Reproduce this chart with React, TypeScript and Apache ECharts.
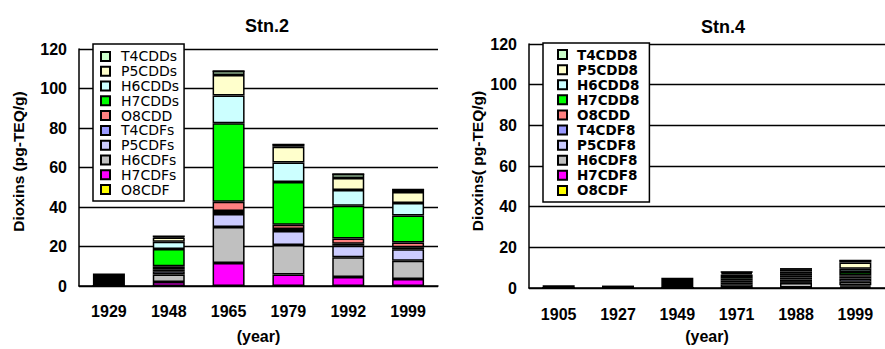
import React, { useEffect, useRef } from 'react';
import * as echarts from 'echarts';

const FONT = '"Liberation Sans", Arial, sans-serif';
const LEGEND_FONT = '"DejaVu Sans", "Liberation Sans", sans-serif';

// Stn.2
const years2 = ['1929', '1948', '1965', '1979', '1992', '1999'];
const s2_O8CDF = [0, 0, 0, 0, 0, 0];
const s2_H7CDFs = [0, 2.0, 11.6, 5.8, 4.6, 3.6];
const s2_H6CDFs = [0, 3.8, 18.3, 14.9, 10.0, 9.2];
const s2_P5CDFs = [0, 1.7, 6.6, 7.2, 5.8, 5.8];
const s2_T4CDFs = [0, 1.0, 1.5, 1.0, 1.0, 1.0];
const s2_O8CDD = [0, 1.5, 4.6, 2.1, 2.6, 2.4];
const s2_H7CDDs = [0, 8.7, 39.8, 21.6, 16.6, 13.7];
const s2_H6CDDs = [0, 3.7, 14.1, 9.9, 8.0, 6.3];
const s2_P5CDDs = [0, 2.1, 10.3, 8.0, 6.1, 5.6];
const s2_T4CDDs = [0, 0.7, 2.0, 1.1, 2.0, 1.3];
const s2_Other = [6.3, 0, 0, 0, 0, 0];

// Stn.4
const years4 = ['1905', '1927', '1949', '1971', '1988', '1999'];
const s4_O8CDF = [0, 0, 0, 0, 0, 0.6];
const s4_H7CDF8 = [0, 0, 0, 0.3, 0.3, 0.7];
const s4_H6CDF8 = [0, 0, 0, 1.6, 2.2, 1.8];
const s4_P5CDF8 = [0, 0, 0, 0.9, 0.9, 1.6];
const s4_T4CDF8 = [0, 0, 0, 0.8, 0.8, 0.8];
const s4_O8CDD = [0, 0, 0, 0.9, 0.9, 0.8];
const s4_H7CDD8 = [0, 0, 0, 0.9, 0.9, 1.6];
const s4_H6CDD8 = [0, 0, 0, 1.2, 1.3, 1.6];
const s4_P5CDD8 = [0, 0, 0, 0.7, 0.8, 3.0];
const s4_T4CDD8 = [0, 0, 0, 0.6, 0.8, 1.0];
const s4_Other = [1.3, 1.2, 5.0, 0, 0.9, 0];

const yTicks = { min: 0, max: 120, interval: 20 };

const legend2 = ['T4CDDs', 'P5CDDs', 'H6CDDs', 'H7CDDs', 'O8CDD', 'T4CDFs', 'P5CDFs', 'H6CDFs', 'H7CDFs', 'O8CDF'];
const legend4 = ['T4CDD8', 'P5CDD8', 'H6CDD8', 'H7CDD8', 'O8CDD', 'T4CDF8', 'P5CDF8', 'H6CDF8', 'H7CDF8', 'O8CDF'];

const colors = {
  O8CDF: '#FFFF00',
  H7CDF: '#FF00FF',
  H6CDF: '#C0C0C0',
  P5CDF: '#CCCCFF',
  T4CDF: '#9999FF',
  O8CDD: '#FF8080',
  H7CDD: '#00FF00',
  H6CDD: '#CCFFFF',
  P5CDD: '#FFFFCC',
  T4CDD: '#CCFFCC',
  Other: '#000000',
};

function bar(name: string, data: number[], color: string, idx: number, stack: string) {
  return {
    type: 'bar',
    name,
    data,
    stack,
    xAxisIndex: idx,
    yAxisIndex: idx,
    barWidth: 32,
    itemStyle: { color, borderColor: '#000', borderWidth: 1.5 },
    emphasis: { disabled: true },
  };
}

export default function App() {
  const ref = useRef<HTMLDivElement>(null);
  useEffect(() => {
    document.body.style.margin = '0';
    const chart = echarts.init(ref.current!, null, { renderer: 'svg' });

    const xAxisBase = (data: string[], gridIndex: number, margin: number, nameGap: number) => ({
      type: 'category',
      gridIndex,
      data,
      axisLine: { lineStyle: { color: '#000', width: 1.5 } },
      axisTick: { inside: true, length: 5, lineStyle: { color: '#000', width: 1.5 } },
      axisLabel: { fontSize: 16, fontWeight: 'bold', color: '#000', margin, fontFamily: FONT },
      name: '(year)',
      nameLocation: 'middle',
      nameGap,
      nameTextStyle: { fontSize: 16, fontWeight: 'bold', color: '#000', fontFamily: FONT },
    });

    const yAxisBase = (gridIndex: number, name: string, nameGap: number, shift: number) => ({
      type: 'value',
      gridIndex,
      ...yTicks,
      axisLine: { show: true, lineStyle: { color: '#000', width: 1.5 } },
      axisTick: { show: false },
      splitLine: { lineStyle: { color: '#000', width: 1.3 } },
      axisLabel: { fontSize: 16, fontWeight: 'bold', color: '#000', margin: 12, fontFamily: FONT },
      name,
      nameLocation: 'middle',
      nameRotate: 90,
      nameGap,
      nameTextStyle: { fontSize: 15.5, fontWeight: 'bold', color: '#000', fontFamily: FONT, padding: [0, 0, 0, shift] },
    });

    const legendBase = (data: string[], left: number, top: number, padding: number[], fontSize: number, fontWeight: string, lineHeight: number, textPad: number) => ({
      data,
      orient: 'vertical',
      left,
      top,
      padding,
      itemGap: 0,
      itemWidth: 9,
      itemHeight: 9,
      icon: 'rect',
      selectedMode: false,
      backgroundColor: '#fff',
      borderColor: '#000',
      borderWidth: 1.5,
      textStyle: { fontSize, fontWeight, lineHeight, color: '#000', fontFamily: LEGEND_FONT, padding: [0, 0, 0, textPad] },
    });

    const option = {
      animation: false,
      backgroundColor: '#fff',
      title: [
        { text: 'Stn.2', left: 262, top: 12, textAlign: 'center', textStyle: { fontSize: 18, fontWeight: 'bold', color: '#000', fontFamily: FONT } },
        { text: 'Stn.4', left: 718, top: 13, textAlign: 'center', textStyle: { fontSize: 18, fontWeight: 'bold', color: '#000', fontFamily: FONT } },
      ],
      grid: [
        { left: 79, top: 49, width: 359, height: 241 },
        { left: 529, top: 44, width: 364, height: 248 },
      ],
      xAxis: [xAxisBase(years2, 0, 17, 42), xAxisBase(years4, 1, 18, 40)],
      yAxis: [
        yAxisBase(0, 'Dioxins (pg-TEQ/g)', 53, 12),
        yAxisBase(1, 'Dioxins( pg-TEQ/g)', 44, 10),
      ],
      legend: [
        legendBase(legend2, 93, 44, [5, 5, 4, 7], 14, 'normal', 14.8, 6),
        legendBase(legend4, 543, 43, [4, 10, 4, 14], 13.5, 'bold', 15.1, 5),
      ],
      series: [
        bar('O8CDF', s2_O8CDF, colors.O8CDF, 0, 'a'),
        bar('H7CDFs', s2_H7CDFs, colors.H7CDF, 0, 'a'),
        bar('H6CDFs', s2_H6CDFs, colors.H6CDF, 0, 'a'),
        bar('P5CDFs', s2_P5CDFs, colors.P5CDF, 0, 'a'),
        bar('T4CDFs', s2_T4CDFs, colors.T4CDF, 0, 'a'),
        bar('O8CDD', s2_O8CDD, colors.O8CDD, 0, 'a'),
        bar('H7CDDs', s2_H7CDDs, colors.H7CDD, 0, 'a'),
        bar('H6CDDs', s2_H6CDDs, colors.H6CDD, 0, 'a'),
        bar('P5CDDs', s2_P5CDDs, colors.P5CDD, 0, 'a'),
        bar('T4CDDs', s2_T4CDDs, colors.T4CDD, 0, 'a'),
        bar('Other2', s2_Other, colors.Other, 0, 'a'),
        bar('O8CDF', s4_O8CDF, colors.O8CDF, 1, 'b'),
        bar('H7CDF8', s4_H7CDF8, colors.H7CDF, 1, 'b'),
        bar('H6CDF8', s4_H6CDF8, colors.H6CDF, 1, 'b'),
        bar('P5CDF8', s4_P5CDF8, colors.P5CDF, 1, 'b'),
        bar('T4CDF8', s4_T4CDF8, colors.T4CDF, 1, 'b'),
        bar('O8CDD', s4_O8CDD, colors.O8CDD, 1, 'b'),
        bar('H7CDD8', s4_H7CDD8, colors.H7CDD, 1, 'b'),
        bar('H6CDD8', s4_H6CDD8, colors.H6CDD, 1, 'b'),
        bar('P5CDD8', s4_P5CDD8, colors.P5CDD, 1, 'b'),
        bar('T4CDD8', s4_T4CDD8, colors.T4CDD, 1, 'b'),
        bar('Other4', s4_Other, colors.Other, 1, 'b'),
      ],
    };

    chart.setOption(option as any);
    return () => chart.dispose();
  }, []);
  return <div ref={ref} style={{ width: 885, height: 349, background: '#fff' }} />;
}
